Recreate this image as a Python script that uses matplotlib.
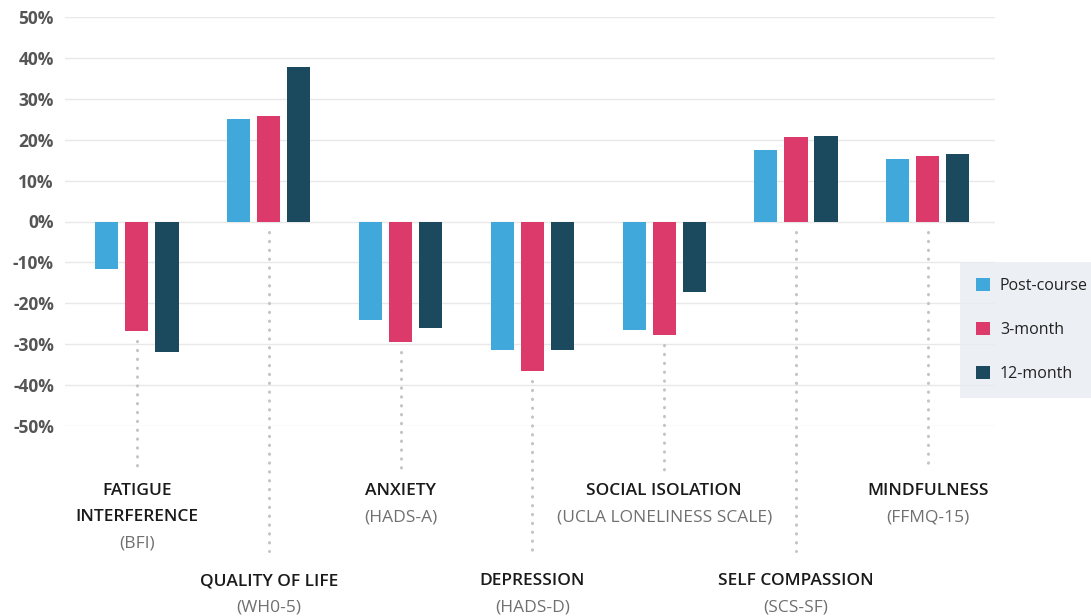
import numpy as np
import matplotlib
matplotlib.use("Agg")
import matplotlib.pyplot as plt

plt.rcParams['font.family'] = ['Open Sans', 'DejaVu Sans']

# data
titles = ['FATIGUE\nINTERFERENCE', 'QUALITY OF LIFE', 'ANXIETY', 'DEPRESSION',
          'SOCIAL ISOLATION', 'SELF COMPASSION', 'MINDFULNESS']
scales = ['(BFI)', '(WH0-5)', '(HADS-A)', '(HADS-D)',
          '(UCLA LONELINESS SCALE)', '(SCS-SF)', '(FFMQ-15)']
series = ['Post-course', '3-month', '12-month']
post = [-11.5, 25, -24, -31.5, -26.5, 17.5, 15.2]
m3 = [-26.8, 25.8, -29.5, -36.5, -27.8, 20.7, 15.9]
m12 = [-31.8, 37.8, -26, -31.5, -17.2, 20.9, 16.4]
yticks = [50, 40, 30, 20, 10, 0, -10, -20, -30, -40, -50]

colors = ['#41A8DC', '#DC3A6B', '#1B4A5E']

fig = plt.figure(figsize=(10.91, 6.16), dpi=100)
ax = fig.add_axes([65/1091, 1-426/616, (995-65)/1091, (426-17)/616])

x = np.arange(len(titles))
w = 0.175
off = 0.228
for i, (vals, c, name) in enumerate(zip([post, m3, m12], colors, series)):
    ax.bar(x + (i-1)*off, vals, width=w, color=c, label=name, zorder=3)

ax.set_ylim(-50, 50)
ax.set_xlim(-0.546, 6.51)
ax.set_yticks(yticks)
ax.set_yticklabels([f'{t}%' for t in yticks], fontsize=12.5, fontweight='bold', color='#555555')
ax.tick_params(axis='y', length=0, pad=8)
ax.set_xticks([])
for t in yticks:
    ax.axhline(t, color='#e8e8e8', lw=1, zorder=1)
for s in ax.spines.values():
    s.set_visible(False)

# category labels with dotted leaders (6.35 data units ~ one text line)
for i in range(len(titles)):
    top_row = i % 2 == 0
    start = min(0, m3[i])
    end = -61 if top_row else -80.5
    ax.plot([x[i], x[i]], [start - 2.5, end], color='#c4c4c4', lw=2.2,
            linestyle=(0, (0.1, 2.8)), dash_capstyle='round', clip_on=False, zorder=2)
    ty = -66 if top_row else -88
    lines = titles[i].split('\n')
    for k, ln in enumerate(lines):
        ax.text(x[i], ty - 6.35*k, ln, ha='center', va='center', fontsize=12.5,
                fontweight='semibold', color='#1a1a1a', clip_on=False)
    ax.text(x[i], ty - 6.35*len(lines), scales[i], ha='center', va='center',
            fontsize=12.5, color='#707070', clip_on=False)

leg = ax.legend(loc='upper left', bbox_to_anchor=(960/1091, 1-262/616),
                bbox_transform=fig.transFigure, frameon=True, fontsize=11.5,
                handlelength=0.9, handleheight=0.9, labelspacing=1.75,
                borderpad=1.0, handletextpad=0.6, borderaxespad=0)
leg.get_frame().set_facecolor('#E8ECF2')
leg.get_frame().set_edgecolor('none')
leg.get_frame().set_boxstyle('square', pad=0)
for t in leg.get_texts():
    t.set_color('#222222')

fig.savefig('out.png', dpi=100)
